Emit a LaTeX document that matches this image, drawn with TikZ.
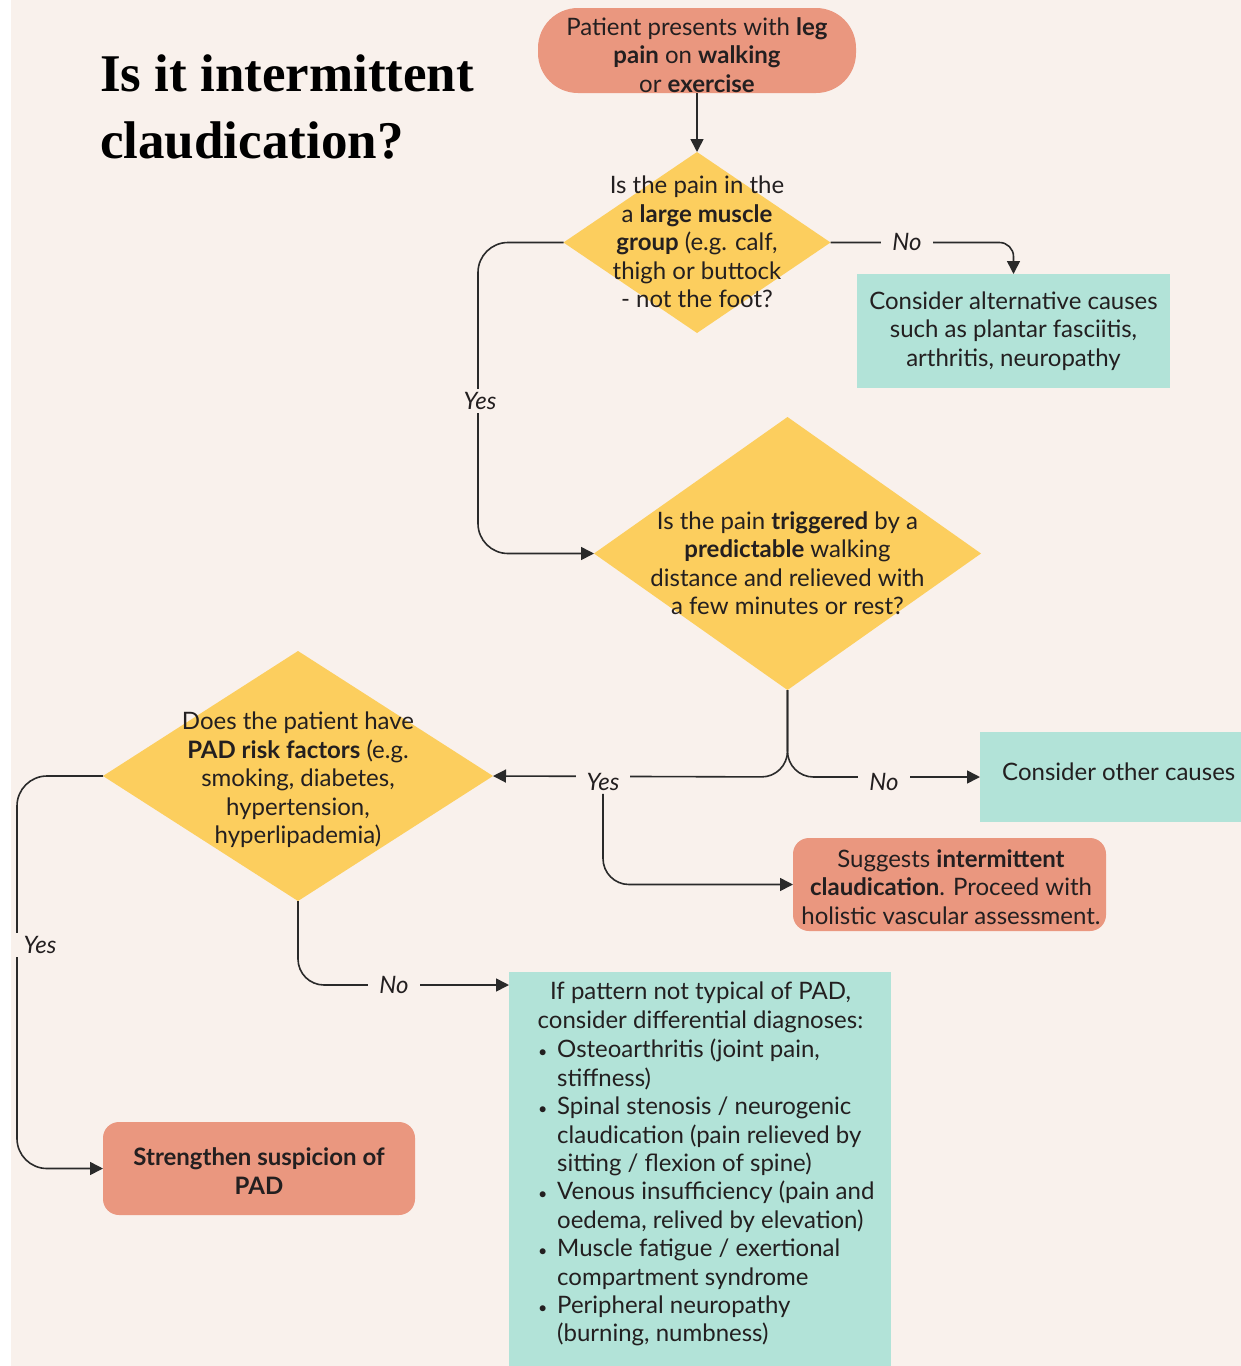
\documentclass[tikz,border=0pt]{standalone}
\usepackage{fontspec}
\setmainfont{Lato}
\newfontfamily\titlefont{Liberation Serif}
\usetikzlibrary{shapes.geometric,arrows.meta,calc}
\definecolor{bgc}{HTML}{F9F1EC}
\definecolor{salmonc}{HTML}{EA977F}
\definecolor{yellowc}{HTML}{FCCE5E}
\definecolor{tealc}{HTML}{B2E3D8}
\definecolor{linec}{HTML}{2A2A2A}
\definecolor{txtc}{HTML}{231F20}
\newcommand{\mybul}{\makebox[20pt][l]{\hspace{1pt}{\fontsize{16}{16}\selectfont\textbullet}}}
\newcommand{\myind}{\hspace*{20pt}}
\begin{document}
\begin{tikzpicture}[x=1pt,y=-1pt,
  txt/.style={font=\fontsize{24}{28.4}\selectfont, text=txtc, align=center, inner sep=0pt},
  salmonbox/.style={fill=salmonc, draw=none, rounded corners=16pt, inner sep=0pt, outer sep=0pt},
  tealbox/.style={fill=tealc, draw=none, inner sep=0pt, outer sep=0pt},
  dia/.style={diamond, fill=yellowc, draw=none, inner sep=0pt, outer sep=0pt},
  conn/.style={draw=linec, line width=1.6pt, -{Triangle[length=13pt,width=13pt]}},
  lbl/.style={fill=bgc, font=\fontsize{24}{26}\selectfont\itshape, text=txtc, inner xsep=11pt, inner ysep=3pt},
  ttl/.style={anchor=base west, inner sep=0pt, text=black, font=\titlefont\bfseries\fontsize{53}{67}\selectfont}]
\useasboundingbox (0,0) rectangle (1241,1366);
\fill[bgc] (11,0) rectangle (1241,1366);

% title
\node[ttl] (title1) at (100,91) {Is it intermittent};
\node[ttl] (title2) at (100,158) {claudication?};

% shapes
\node[salmonbox, rounded corners=40pt, minimum width=318pt, minimum height=85pt] (start) at (697,50.5) {};
\node[txt] (starttxt) at (697,55) {Patient presents with \textbf{leg}\\\textbf{pain} on \textbf{walking}\\or \textbf{exercise}};

\node[dia, minimum width=267pt, minimum height=181pt] (d1) at (697,242.5) {};
\node[txt] (d1txt) at (697,242) {Is the pain in the\\a \textbf{large muscle}\\\textbf{group} (e.g. calf,\\thigh or buttock\\- not the foot?};

\node[tealbox, minimum width=313pt, minimum height=114pt] (alt) at (1013.5,331) {};
\node[txt] (alttxt) at (1013.5,331) {Consider alternative causes\\such as plantar fasciitis,\\arthritis, neuropathy};

\node[dia, minimum width=387pt, minimum height=273pt] (d2) at (787.5,553.5) {};
\node[txt] (d2txt) at (787.5,563) {Is the pain \textbf{triggered} by a\\\textbf{predictable} walking\\distance and relieved with\\a few minutes or rest?};

\node[dia, minimum width=390pt, minimum height=250pt] (d3) at (298,776) {};
\node[txt] (d3txt) at (298,780) {Does the patient have\\\textbf{PAD risk factors} (e.g.\\smoking, diabetes,\\hypertension,\\hyperlipademia)};

\node[tealbox, minimum width=280pt, minimum height=90pt, anchor=west] (other) at (980,777) {};
\node[txt, anchor=west] (othertxt) at (1002,772) {Consider other causes};

\node[salmonbox, minimum width=313pt, minimum height=93pt] (sugg) at (949.5,884.5) {};
\node[txt] (suggtxt) at (951,887) {Suggests \textbf{intermittent}\\\textbf{claudication}. Proceed with\\holistic vascular assessment.};

\node[salmonbox, minimum width=312pt, minimum height=93pt] (str) at (259,1168.5) {};
\node[txt, font=\fontsize{24}{28.4}\selectfont\bfseries] (strtxt) at (259,1171) {Strengthen suspicion of\\PAD};

\node[tealbox, minimum width=382pt, minimum height=410pt, anchor=north west] (diff) at (509,972) {};
\node[txt] (diffhead) at (700.5,1007.5) {If pattern not typical of PAD,\\consider differential diagnoses:};
\node[txt, align=left, anchor=north west] (difflist) at (537,1039) {%
\mybul Osteoarthritis (joint pain,\\
\myind stiffness)\\
\mybul Spinal stenosis / neurogenic\\
\myind claudication (pain relieved by\\
\myind sitting / flexion of spine)\\
\mybul Venous insufficiency (pain and\\
\myind oedema, relived by elevation)\\
\mybul Muscle fatigue / exertional\\
\myind compartment syndrome\\
\mybul Peripheral neuropathy\\
\myind (burning, numbness)};

% helper coordinates
\coordinate (xa) at (478,0);
\coordinate (xb) at (17,0);
\coordinate (spl) at (787.5,777);
\coordinate (dn) at ($(diff.north west)+(0,13)$);

% connectors
\draw[conn] (start.south) -- (d1.north);
\draw[conn, rounded corners=14pt] (d1.east) -- (alt.north |- d1.east) -- (alt.north);
\node[lbl] (no1) at (907,242) {No};

\draw[conn, rounded corners=30pt] (d1.west) -- (d1.west -| xa) -- (d2.west -| xa) -- (d2.west);
\node[lbl] (yes1) at (480,401) {Yes};

\draw[conn, rounded corners=26pt] (d2.south) -- (spl) -- (d3.east);
\draw[conn, rounded corners=26pt] (d2.south) -- (spl) -- (other.west);
\node[lbl] (yes2) at (603,782) {Yes};
\node[lbl] (no2) at (884,782) {No};
\draw[conn, rounded corners=26pt] (yes2.south) -- (yes2.south |- sugg.west) -- (sugg.west);

\draw[conn, rounded corners=30pt] (d3.west) -- (d3.west -| xb) -- (str.west -| xb) -- (str.west);
\node[lbl] (yes3) at (40,945) {Yes};

\draw[conn, rounded corners=26pt] (d3.south) -- (d3.south |- dn) -- (dn);
\node[lbl] (no3) at (394,985) {No};
\end{tikzpicture}
\end{document}
